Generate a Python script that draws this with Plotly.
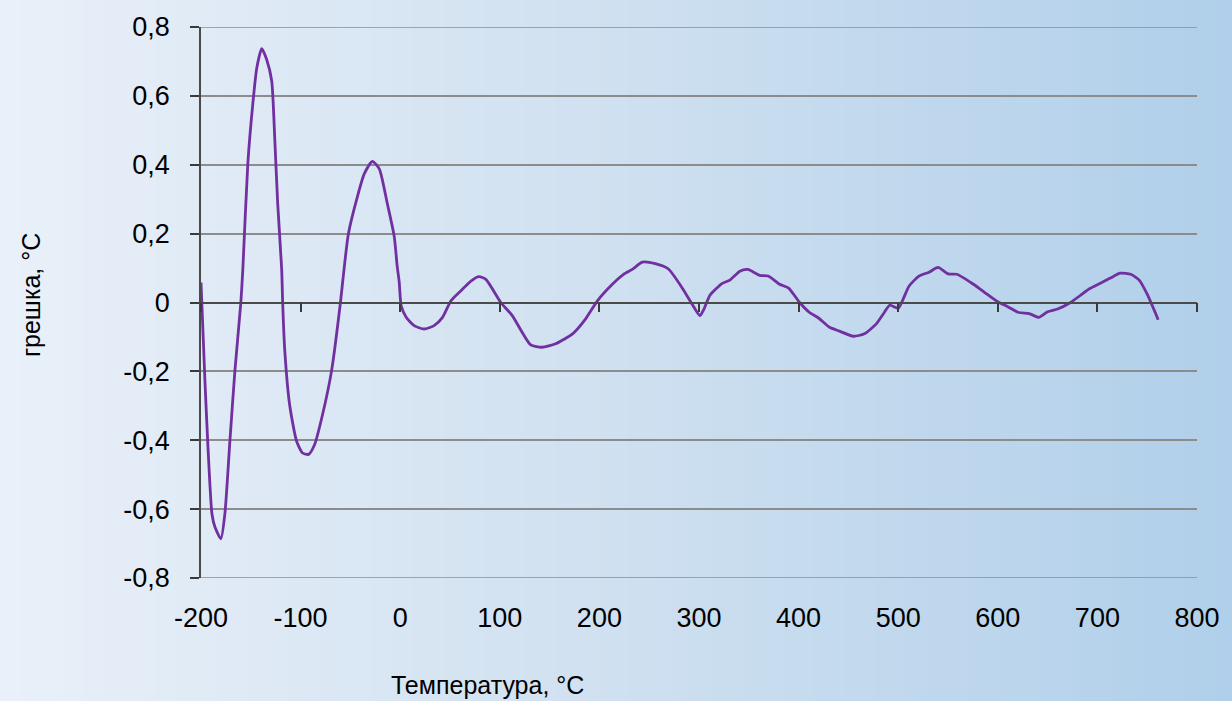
import plotly.graph_objects as go

temperature = [-200, -196, -193, -189, -186, -180, -176, -171, -166, -160, -158, -153, -148, -144,
               -139, -134, -129, -126, -123, -119, -118, -116, -111, -104, -98, -92, -86, -78, -69,
               -60, -57.5, -52, -43, -36, -28, -21, -13, -6, -3, -1, 1, 6, 14, 24, 34, 42.5, 51, 61,
               71, 79, 86, 101, 112.5, 131, 142.5, 156, 173, 186, 198, 213, 224, 233, 243, 256, 269,
               283, 295, 301, 305, 311, 323, 331, 341, 349, 361, 369.5, 381, 390, 401, 411, 420, 431,
               441, 455, 466, 478, 486, 491.5, 500, 505, 511, 521, 531, 540, 550, 559, 573, 586, 600,
               610, 621, 631.5, 641, 650, 660, 673, 683, 692, 703, 713, 723, 733.5, 742, 750, 761]
error = [0.058, -0.23, -0.42, -0.614, -0.652, -0.686, -0.613, -0.403, -0.2, 0.0, 0.096, 0.403, 0.576,
         0.681, 0.737, 0.705, 0.643, 0.48, 0.288, 0.096, 0.0, -0.134, -0.297, -0.403, -0.437, -0.441,
         -0.413, -0.326, -0.2, 0.0, 0.067, 0.2, 0.307, 0.374, 0.41, 0.388, 0.288, 0.192, 0.105, 0.06,
         -0.01, -0.043, -0.067, -0.077, -0.067, -0.043, 0.005, 0.034, 0.062, 0.075, 0.067, 0.0, -0.038,
         -0.123, -0.13, -0.12, -0.091, -0.048, 0.005, 0.053, 0.081, 0.096, 0.117, 0.113, 0.098, 0.043,
         -0.014, -0.038, -0.019, 0.021, 0.055, 0.065, 0.091, 0.096, 0.079, 0.077, 0.053, 0.042, 0.0,
         -0.029, -0.045, -0.072, -0.083, -0.098, -0.091, -0.062, -0.029, -0.008, -0.017, 0.01, 0.048,
         0.077, 0.088, 0.102, 0.083, 0.082, 0.058, 0.031, 0.002, -0.012, -0.029, -0.032, -0.043,
         -0.027, -0.019, 0.0, 0.021, 0.04, 0.056, 0.071, 0.085, 0.082, 0.065, 0.024, -0.05]

x_ticks = [-200, -100, 0, 100, 200, 300, 400, 500, 600, 700, 800]
x_tick_text = ["-200", "-100", "0", "100", "200", "300", "400", "500", "600", "700", "800"]
y_ticks = [-0.8, -0.6, -0.4, -0.2, 0, 0.2, 0.4, 0.6, 0.8]
y_tick_text = ["-0,8", "-0,6", "-0,4", "-0,2", "0", "0,2", "0,4", "0,6", "0,8"]
x_range = [-200, 800]
y_range = [-0.8, 0.8]

FONT = "Liberation Sans, Arial, sans-serif"
TICK_SIZE = 27
TITLE_SIZE = 25

fig = go.Figure()
fig.add_trace(go.Scatter(x=temperature, y=error, mode="lines",
                         line=dict(color="#7030a0", width=2.8, shape="spline", smoothing=0.6),
                         showlegend=False, hoverinfo="x+y"))
# invisible trace for the zero-line x-axis
fig.add_trace(go.Scatter(x=x_range, y=[0, 0], xaxis="x2", mode="lines",
                         line=dict(width=0), showlegend=False, hoverinfo="skip"))

# gradient background
def lerp(c1, c2, t):
    return tuple(round(a + (b - a) * t) for a, b in zip(c1, c2))

left = (233, 240, 249)
mid = (207, 224, 240)
right = (176, 207, 234)
n = 120
shapes = []
x_start, x_end = -0.2, 1.04
for i in range(n):
    t = (i + 0.5) / n
    if t < 0.5:
        c = lerp(left, mid, t / 0.5)
    else:
        c = lerp(mid, right, (t - 0.5) / 0.5)
    w = (x_end - x_start) / n
    shapes.append(dict(type="rect", xref="paper", yref="paper",
                       x0=x_start + w * i - 0.001, x1=x_start + w * (i + 1) + 0.001,
                       y0=-0.3, y1=1.1, layer="below", line=dict(width=0),
                       fillcolor="rgb(%d,%d,%d)" % c))

# gridlines at the range edges
for yv in y_range:
    shapes.append(dict(type="line", xref="x", yref="y", x0=x_range[0], x1=x_range[1],
                       y0=yv, y1=yv, layer="below", line=dict(color="#8c8c8c", width=1.5)))

fig.update_layout(
    width=1232, height=701,
    margin=dict(l=201, r=32, t=22, b=123),
    paper_bgcolor="rgb(233,240,249)",
    plot_bgcolor="rgba(0,0,0,0)",
    font=dict(family=FONT, size=TICK_SIZE, color="#000000"),
    shapes=shapes,
    xaxis=dict(range=x_range, tickvals=x_ticks, ticktext=x_tick_text, showgrid=False,
               zeroline=False, showline=False, ticks="", ticklabelstandoff=21,
               tickfont=dict(size=TICK_SIZE, family=FONT)),
    xaxis2=dict(range=x_range, overlaying="x", anchor="free", position=0.5,
                showline=True, linecolor="#4a4a4a", linewidth=1.5, ticks="outside",
                ticklen=9, tickwidth=1.5, tickcolor="#3a3a3a", tickvals=x_ticks,
                showticklabels=False, showgrid=False, zeroline=False),
    yaxis=dict(range=y_range, tickvals=y_ticks, ticktext=y_tick_text,
               showgrid=True, gridcolor="#8c8c8c", gridwidth=1.5, zeroline=False,
               showline=True, linecolor="#4a4a4a", linewidth=1.5,
               ticks="outside", ticklen=9, tickwidth=1.5, tickcolor="#3a3a3a",
               ticklabelstandoff=15,
               tickfont=dict(size=TICK_SIZE, family=FONT)),
    annotations=[
        dict(text="Температура, °C", xref="paper", yref="paper", x=(488 - 201) / 999,
             y=-(686 - 578) / 556, showarrow=False, font=dict(size=TITLE_SIZE, family=FONT),
             xanchor="center", yanchor="middle"),
        dict(text="грешка, °C", xref="paper", yref="paper", x=-(201 - 30) / 999,
             y=(578 - 293) / 556, showarrow=False, textangle=-90,
             font=dict(size=TITLE_SIZE, family=FONT), xanchor="center", yanchor="middle"),
    ],
)

fig.write_html("out.html", config={"displayModeBar": False},
               post_script="document.body.style.margin='0';document.body.style.overflow='hidden';")
